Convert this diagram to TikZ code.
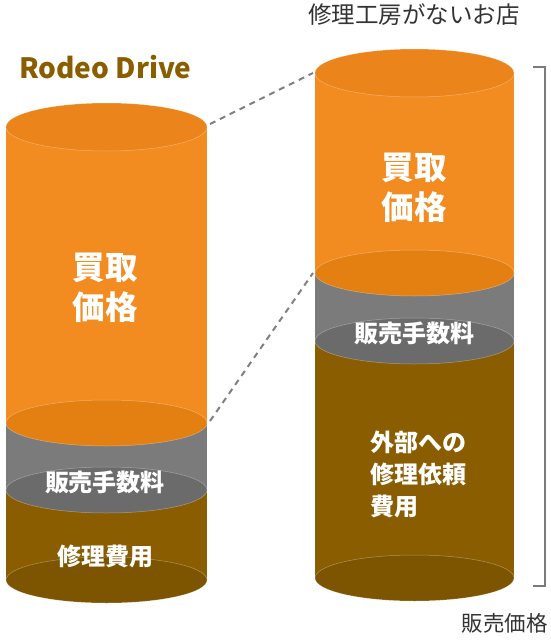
\documentclass[tikz,border=0pt]{standalone}
\usepackage{fontspec}
\setmainfont{Noto Sans CJK JP}
\usepackage{xcolor}
\definecolor{orbody}{HTML}{F28B20}
\definecolor{ortop}{HTML}{EB841A}
\definecolor{orface}{HTML}{E47F12}
\definecolor{grbody}{HTML}{7B7B7B}
\definecolor{grface}{HTML}{6B6B6B}
\definecolor{brbody}{HTML}{8A5E00}
\definecolor{brface}{HTML}{7D5500}
\definecolor{txtdark}{HTML}{333333}

\begin{document}
\begin{tikzpicture}[x=1pt,y=-1pt,
  rim/.style={draw=white,draw opacity=.35,line width=.5pt},
  label/.style={text=white,font=\bfseries\fontsize{24}{32}\selectfont,inner sep=0pt},
  biglabel/.style={text=white,font=\bfseries\fontsize{32.5}{40}\selectfont,inner sep=0pt,align=center},
  capt/.style={text=txtdark,inner sep=0pt}]
\useasboundingbox (0,0) rectangle (550,640);
% left cylinder
\fill[brbody] (6,490) rectangle (207,580);
\fill[brface,rim] (106.5,580) ellipse [x radius=100.5pt,y radius=23pt];
\fill[grbody] (6,423) rectangle (207,490);
\fill[grface,rim] (106.5,490) ellipse [x radius=100.5pt,y radius=23pt];
\fill[orbody] (6,127) rectangle (207,423);
\fill[orface,rim] (106.5,423) ellipse [x radius=100.5pt,y radius=23pt];
\fill[ortop,rim] (106.5,127) ellipse [x radius=100.5pt,y radius=24pt];
% right cylinder
\fill[brbody] (315,341) rectangle (514,578);
\fill[brface,rim] (414.5,578) ellipse [x radius=99.5pt,y radius=23pt];
\fill[grbody] (315,273) rectangle (514,341);
\fill[grface,rim] (414.5,341) ellipse [x radius=99.5pt,y radius=23pt];
\fill[orbody] (315,73) rectangle (514,273);
\fill[orface,rim] (414.5,273) ellipse [x radius=99.5pt,y radius=23pt];
\fill[ortop,rim] (414.5,73) ellipse [x radius=99.5pt,y radius=24pt];
% dashed guides
\coordinate (ltop) at (210,124);
\coordinate (rtop) at (313,73);
\coordinate (lmid) at (210,421);
\coordinate (rmid) at (313,273);
\draw[gray,line width=2pt,dash pattern=on 6pt off 5pt] (ltop) -- (rtop);
\draw[gray,line width=2pt,dash pattern=on 6pt off 5pt] (lmid) -- (rmid);
% bracket
\coordinate (btop) at (533,67);
\coordinate (bbot) at (533,586);
\draw[grbody,line width=1.2pt] (btop) -- ++(12,0) |- (bbot);
% texts
\node (title) [text=brbody,font=\bfseries\fontsize{28}{30}\selectfont,anchor=west,inner sep=0pt] at (19,67) {Rodeo Drive};
\node (shop) [capt,font=\fontsize{23.5}{26}\selectfont] at (414,15) {修理工房がないお店};
\node (price) [capt,font=\fontsize{21.5}{24}\selectfont] at (504.5,623) {販売価格};
\node (lbuy) [biglabel] at (105,288) {買取\\価格};
\node (lfee) [label] at (105,482) {販売手数料};
\node (lrep) [label] at (105,556) {修理費用};
\node (rbuy) [biglabel] at (414,188) {買取\\価格};
\node (rfee) [label] at (414,333) {販売手数料};
\node (rrep) [label,align=left] at (418,474) {外部への\\修理依頼\\費用};
\end{tikzpicture}
\end{document}
